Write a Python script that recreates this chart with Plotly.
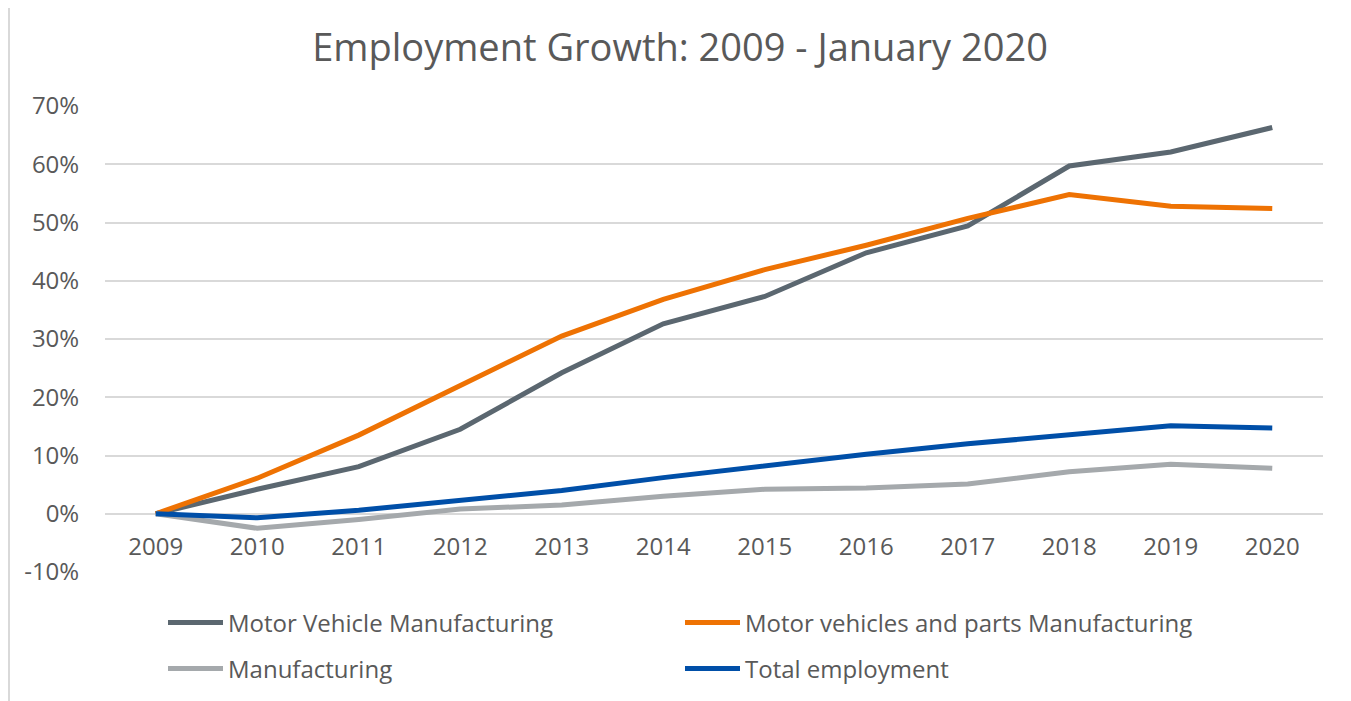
import plotly.graph_objects as go

years = ["2009", "2010", "2011", "2012", "2013", "2014", "2015", "2016", "2017", "2018", "2019", "2020"]
motor_vehicle = [0, 4.2, 8.1, 14.5, 24.2, 32.6, 37.3, 44.8, 49.4, 59.7, 62.1, 66.3]
motor_parts = [0, 6.1, 13.5, 22.1, 30.5, 36.8, 41.9, 46.1, 50.7, 54.8, 52.8, 52.4]
manufacturing = [0, -2.5, -1.0, 0.8, 1.5, 3.0, 4.2, 4.4, 5.1, 7.2, 8.5, 7.8]
total_employment = [0, -0.7, 0.6, 2.3, 4.0, 6.2, 8.3, 10.2, 12.0, 13.6, 15.1, 14.7]
y_tick_values = [-10, 0, 10, 20, 30, 40, 50, 60, 70]
y_tick_labels = ["-10%", "0%", "10%", "20%", "30%", "40%", "50%", "60%", "70%"]

# page offset of the plot div (body margin)
OFF = 8
W, H = 1351 - OFF, 701 - OFF
# target pixel positions in the screenshot
PLOT_L, PLOT_R, PLOT_T, PLOT_B = 105, 1323, 106, 572
ML, MR, MT = PLOT_L - OFF, (1351 - PLOT_R), PLOT_T - OFF
MB = H - (PLOT_B - OFF)
PW, PH = W - ML - MR, H - MT - MB

FONT = "Open Sans"
TXT = "#595959"

fig = go.Figure()
series = [
    ("Motor Vehicle Manufacturing", motor_vehicle, "#5b6770", "legend"),
    ("Motor vehicles and parts Manufacturing", motor_parts, "#ee7203", "legend"),
    ("Manufacturing", manufacturing, "#a5a9ac", "legend2"),
    ("Total employment", total_employment, "#004fa8", "legend2"),
]
for name, vals, col, lg in series:
    fig.add_trace(go.Scatter(x=years, y=vals, name=name, mode="lines",
                             line=dict(color=col, width=5), legend=lg))

def px2x(p):
    return (p - OFF - ML) / PW

def px2y(p):
    return (H - MB - (p - OFF)) / PH

def cx(p):
    return (p - OFF) / W

def cy(p):
    return 1 - (p - OFF) / H

legend_common = dict(orientation="h", xanchor="left", yanchor="middle",
                     xref="container", yref="container",
                     font=dict(family=FONT, size=24, color=TXT),
                     itemwidth=55, entrywidth=447, bgcolor="rgba(0,0,0,0)",
                     traceorder="normal")

fig.update_layout(
    width=W, height=H,
    margin=dict(l=ML, r=MR, t=MT, b=MB, autoexpand=False),
    paper_bgcolor="white", plot_bgcolor="white",
    title=dict(text="Employment Growth: 2009 - January 2020", x=px2x(680), xanchor="center",
               xref="paper", y=1 - (48 - OFF) / H, yanchor="middle",
               font=dict(family=FONT, size=38, color=TXT)),
    xaxis=dict(type="category", range=[-0.5, 11.5], showgrid=False, zeroline=False, showline=False,
               anchor="free", position=10 / 80,
               ticks="outside", ticklen=11, tickcolor="rgba(0,0,0,0)",
               tickfont=dict(family=FONT, size=24, color=TXT)),
    yaxis=dict(range=[-10, 70], tickmode="array", tickvals=y_tick_values, ticktext=y_tick_labels,
               showgrid=True, gridcolor="#d9d9d9", gridwidth=1.5, zeroline=False,
               ticks="outside", ticklen=20, tickcolor="rgba(0,0,0,0)",
               tickfont=dict(family=FONT, size=24, color=TXT)),
    legend=dict(x=cx(163), y=cy(623), **legend_common),
    legend2=dict(x=cx(163), y=cy(669), **legend_common),
    showlegend=True,
    shapes=[dict(type="rect", xref="paper", yref="paper",
                 x0=px2x(9), x1=px2x(1420), y0=px2y(760), y1=px2y(7),
                 line=dict(color="#d9d9d9", width=2), layer="below")],
)

fig.write_html("out.html")
